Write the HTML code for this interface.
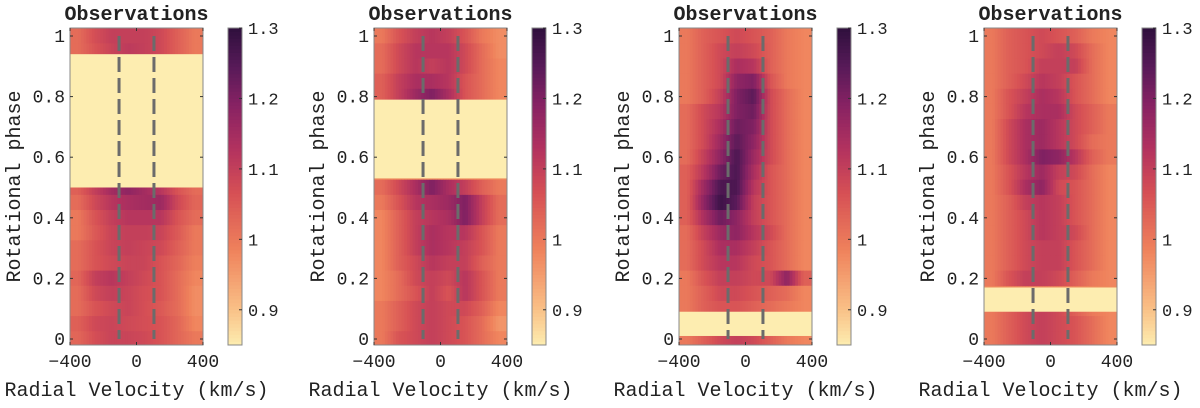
<!DOCTYPE html>
<html><head><meta charset="utf-8"><style>
body{margin:0;background:#fff;width:1200px;height:403px;overflow:hidden}
svg text{font-family:"Liberation Mono","Courier New",monospace;fill:#222}
</style></head><body>
<svg id="chart" width="1200" height="403" viewBox="0 0 1200 403" xmlns="http://www.w3.org/2000/svg"></svg>
<script>
// ---- data ----
const velocityCols = [-350,-250,-150,-50,50,150,250,350];
const phaseRows = [1.0,0.95,0.9,0.85,0.8,0.75,0.7,0.65,0.6,0.55,0.5,0.45,0.4,0.35,0.3,0.25,0.2,0.15,0.1,0.05,0.0];
const xTickLabels = [-400,0,400];
const yTickLabels = [0,0.2,0.4,0.6,0.8,1];
const cbarTickLabels = [0.9,1,1.1,1.2,1.3];
const dashVelocities = [-105,105];
const panel1Mask = [0.5,0.94];
const panel2Mask = [0.53,0.79];
const panel3Mask = [0.01,0.09];
const panel4Mask = [0.09,0.17];
const N = null;
const panel1Values = [
[1.02,1.07,1.10,1.10,1.10,1.08,1.04,1.00],
[1.02,1.06,1.09,1.11,1.10,1.08,1.04,1.00],
N,N,N,N,N,N,N,N,
[1.04,1.10,1.15,1.18,1.15,1.12,1.06,1.02],
[1.02,1.08,1.12,1.14,1.15,1.16,1.08,1.03],
[1.00,1.06,1.10,1.12,1.12,1.12,1.06,1.02],
[1.00,1.05,1.09,1.10,1.10,1.09,1.05,1.00],
[1.02,1.06,1.09,1.10,1.09,1.08,1.04,1.00],
[1.02,1.06,1.08,1.09,1.09,1.06,1.03,0.99],
[1.03,1.10,1.12,1.10,1.08,1.06,1.02,0.98],
[1.02,1.08,1.10,1.09,1.07,1.06,1.02,0.97],
[1.02,1.06,1.08,1.09,1.07,1.05,1.02,0.97],
[1.04,1.08,1.09,1.08,1.07,1.06,1.03,0.98],
[1.03,1.07,1.09,1.09,1.08,1.06,1.03,1.00]];
const panel2Values = [
[1.00,1.06,1.10,1.12,1.10,1.06,1.00,0.97],
[1.02,1.08,1.12,1.12,1.12,1.08,1.02,0.97],
[1.02,1.08,1.12,1.10,1.12,1.08,1.02,0.98],
[1.04,1.10,1.14,1.14,1.12,1.06,1.02,0.98],
[1.04,1.10,1.16,1.20,1.14,1.06,1.02,0.98],
N,N,N,N,N,
[1.02,1.08,1.14,1.20,1.14,1.10,1.04,1.00],
[1.00,1.06,1.12,1.14,1.16,1.20,1.10,1.02],
[0.98,1.04,1.10,1.12,1.14,1.20,1.10,1.02],
[0.98,1.04,1.10,1.14,1.12,1.12,1.06,1.00],
[0.98,1.04,1.10,1.14,1.12,1.10,1.06,1.00],
[0.98,1.04,1.08,1.12,1.10,1.10,1.04,1.00],
[0.98,1.02,1.08,1.10,1.08,1.12,1.06,1.00],
[0.98,1.02,1.06,1.10,1.06,1.12,1.06,1.00],
[1.00,1.04,1.08,1.10,1.08,1.08,1.04,0.98],
[1.00,1.04,1.08,1.10,1.08,1.06,1.02,0.96],
[1.00,1.06,1.08,1.10,1.08,1.06,1.02,0.98]];
const panel3Values = [
[1.00,1.04,1.06,1.08,1.06,1.04,1.00,0.98],
[1.00,1.04,1.08,1.10,1.08,1.04,1.00,0.98],
[1.00,1.04,1.08,1.14,1.12,1.04,1.00,0.98],
[1.00,1.04,1.08,1.18,1.20,1.06,1.00,0.98],
[1.00,1.04,1.10,1.20,1.24,1.08,1.02,0.98],
[1.02,1.08,1.12,1.20,1.22,1.08,1.02,0.98],
[1.02,1.08,1.14,1.22,1.20,1.08,1.02,0.98],
[1.02,1.08,1.16,1.24,1.18,1.08,1.02,0.98],
[1.02,1.10,1.18,1.26,1.16,1.08,1.02,0.98],
[1.04,1.12,1.22,1.26,1.14,1.06,1.02,0.98],
[1.04,1.16,1.26,1.26,1.12,1.06,1.02,0.98],
[1.04,1.18,1.28,1.24,1.10,1.06,1.02,0.98],
[1.04,1.14,1.22,1.18,1.10,1.06,1.02,0.98],
[1.02,1.10,1.16,1.18,1.12,1.08,1.02,0.98],
[1.02,1.08,1.14,1.14,1.10,1.06,1.02,0.98],
[1.02,1.08,1.12,1.12,1.08,1.06,1.02,0.98],
[1.00,1.06,1.10,1.10,1.08,1.08,1.18,1.04],
[1.00,1.04,1.08,1.08,1.06,1.04,1.02,0.98],
[1.00,1.04,1.06,1.06,1.04,1.02,1.00,0.98],
N,
[1.00,1.04,1.08,1.10,1.08,1.04,1.00,0.98]];
const panel4Values = [
[1.00,1.04,1.06,1.08,1.06,1.04,1.00,0.98],
[1.00,1.04,1.06,1.08,1.10,1.08,1.02,0.98],
[1.00,1.04,1.06,1.10,1.10,1.10,1.02,0.98],
[1.00,1.04,1.08,1.12,1.10,1.06,1.02,0.98],
[1.00,1.06,1.10,1.14,1.12,1.06,1.02,0.98],
[1.00,1.06,1.12,1.14,1.14,1.08,1.04,1.00],
[1.00,1.08,1.14,1.16,1.12,1.08,1.04,1.00],
[1.00,1.08,1.14,1.16,1.12,1.08,1.02,1.00],
[1.00,1.08,1.14,1.20,1.18,1.12,1.04,1.00],
[1.00,1.06,1.12,1.16,1.10,1.08,1.02,0.98],
[1.00,1.06,1.14,1.18,1.08,1.06,1.02,0.98],
[1.00,1.04,1.10,1.12,1.10,1.06,1.02,0.98],
[1.00,1.04,1.08,1.12,1.10,1.06,1.02,0.98],
[1.00,1.04,1.08,1.12,1.10,1.08,1.02,0.98],
[1.00,1.04,1.08,1.10,1.10,1.06,1.02,0.98],
[1.00,1.04,1.08,1.10,1.10,1.06,1.02,0.98],
[1.00,1.06,1.10,1.10,1.08,1.04,1.00,0.98],
N,
[1.00,1.04,1.08,1.10,1.08,1.04,1.00,0.98],
[1.00,1.04,1.08,1.10,1.08,1.06,1.02,0.98],
[1.00,1.04,1.08,1.10,1.08,1.06,1.02,0.98]];

const panels = [
 {left:70, values:panel1Values, mask:panel1Mask},
 {left:374, values:panel2Values, mask:panel2Mask},
 {left:679, values:panel3Values, mask:panel3Mask},
 {left:984, values:panel4Values, mask:panel4Mask}];

// ---- scales ----
const W=133, TOP=28, BOT=345, VMIN=0.85, VMAX=1.3;
const yP = p => 339 - 303*p;
const stops=[[0,[253,237,176]],[0.12,[249,190,133]],[0.3,[239,130,92]],[0.48,[214,80,85]],[0.62,[178,50,95]],[0.76,[134,34,99]],[0.88,[87,26,88]],[1,[47,15,61]]];
function cmap(v){
  let t=Math.max(0,Math.min(1,(v-VMIN)/(VMAX-VMIN)));
  for(let i=1;i<stops.length;i++){ if(t<=stops[i][0]){const a=stops[i-1],b=stops[i];const f=(t-a[0])/(b[0]-a[0]);
    return 'rgb('+a[1].map((c,k)=>Math.round(c+(b[1][k]-c)*f)).join(',')+')';}}
  return 'rgb(47,15,61)';
}
const svg=document.getElementById('chart');
const NS='http://www.w3.org/2000/svg';
function mk(tag,attrs,parent){const e=document.createElementNS(NS,tag);for(const k in attrs)e.setAttribute(k,attrs[k]);(parent||svg).appendChild(e);return e;}

panels.forEach((pn,pi)=>{
  const L=pn.left;
  const xV = v => L + (v+400)/800*W;
  const g=mk('g',{});
  
  
  const cp=mk('clipPath',{id:'c'+pi},g); mk('rect',{x:L,y:TOP,width:W,height:BOT-TOP},cp);
  const hm=mk('g',{'clip-path':'url(#c'+pi+')'},g);
  
  
  mk('rect',{x:L,y:TOP,width:W,height:BOT-TOP,fill:'#ef8a5c'},hm);
  const SUB=6, dv=100;
  phaseRows.forEach((ph,ri)=>{
    const row=pn.values[ri]; if(!row) return;
    const y0=yP(ph+0.025), y1=yP(ph-0.025);
    for(let c=0;c<velocityCols.length;c++){
      for(let s=0;s<SUB;s++){
        const v0=velocityCols[c]-dv/2+s*dv/SUB, vc=v0+dv/(2*SUB);
        const pos=(vc-velocityCols[0])/dv; const i=Math.max(0,Math.min(velocityCols.length-2,Math.floor(pos)));
        const f=Math.max(0,Math.min(1,pos-i)); const val=pos<0?row[0]:(pos>velocityCols.length-1?row[row.length-1]:row[i]+(row[i+1]-row[i])*f);
        const r=mk('rect',{x:xV(v0)-0.2,y:y0-0.2,width:xV(v0+dv/SUB)-xV(v0)+0.4,height:y1-y0+0.4,fill:cmap(val)},hm);
        
        
      }
    }
  });
  const m=mk('rect',{x:L,y:yP(pn.mask[1]),width:W,height:yP(pn.mask[0])-yP(pn.mask[1]),fill:'#fdedb0'},hm);
  
  
  dashVelocities.forEach(v=>{
    const d=mk('line',{x1:xV(v),x2:xV(v),y1:yP(1),y2:yP(0),stroke:'#6b6b6b','stroke-width':3,'stroke-dasharray':'15 6'},g);
    
    
  });
  const fr=mk('rect',{x:L,y:TOP,width:W,height:BOT-TOP,fill:'none',stroke:'#888','stroke-width':1},g);
  
  
  yTickLabels.forEach(t=>{
    const y=yP(t);
    mk('line',{x1:L,x2:L+3,y1:y,y2:y,stroke:'#333'},g);
    mk('line',{x1:L+W-3,x2:L+W,y1:y,y2:y,stroke:'#333'},g);
    const tx=mk('text',{x:L-5,y:y+6,'text-anchor':'end','font-size':18},g); tx.textContent=String(t);
    
    
  });
  xTickLabels.forEach(t=>{
    const x=xV(t);
    mk('line',{x1:x,x2:x,y1:BOT,y2:BOT-3,stroke:'#333'},g);
    mk('line',{x1:x,x2:x,y1:TOP,y2:TOP+3,stroke:'#333'},g);
    const tx=mk('text',{x:x,y:367,'text-anchor':'middle','font-size':18},g); tx.textContent=t<0?'\u2212'+(-t):String(t);
    
    
  });
  const ti=mk('text',{x:L+W/2,y:20,'text-anchor':'middle','font-size':20,'font-weight':'bold'},g); ti.textContent='Observations';
  
  
  const xl=mk('text',{x:L+W/2,y:396,'text-anchor':'middle','font-size':20},g); xl.textContent='Radial Velocity (km/s)';
  
  
  const yl=mk('text',{x:0,y:0,'text-anchor':'middle','font-size':20,transform:'translate('+(L-50)+','+((TOP+BOT)/2)+') rotate(-90)'},g); yl.textContent='Rotational phase';
  
  
  // colorbar
  const cx=L+158, cw=14;
  const cb=mk('g',{},g);
  
  
  for(let i=0;i<90;i++){
    const v0=VMIN+(VMAX-VMIN)*i/90, v1=VMIN+(VMAX-VMIN)*(i+1)/90;
    const yv=v=>BOT-(v-VMIN)/(VMAX-VMIN)*(BOT-TOP);
    mk('rect',{x:cx,y:yv(v1)-0.3,width:cw,height:yv(v0)-yv(v1)+0.6,fill:cmap((v0+v1)/2)},cb);
  }
  mk('rect',{x:cx,y:TOP,width:cw,height:BOT-TOP,fill:'none',stroke:'#888'},cb);
  cbarTickLabels.forEach(t=>{
    const y=BOT-(t-VMIN)/(VMAX-VMIN)*(BOT-TOP);
    mk('line',{x1:cx+cw-3,x2:cx+cw,y1:y,y2:y,stroke:'#333'},cb);
    const tx=mk('text',{x:cx+cw+6,y:y+6,'font-size':17},cb); tx.textContent=String(t);
    
    
  });
});
</script>
</body></html>
